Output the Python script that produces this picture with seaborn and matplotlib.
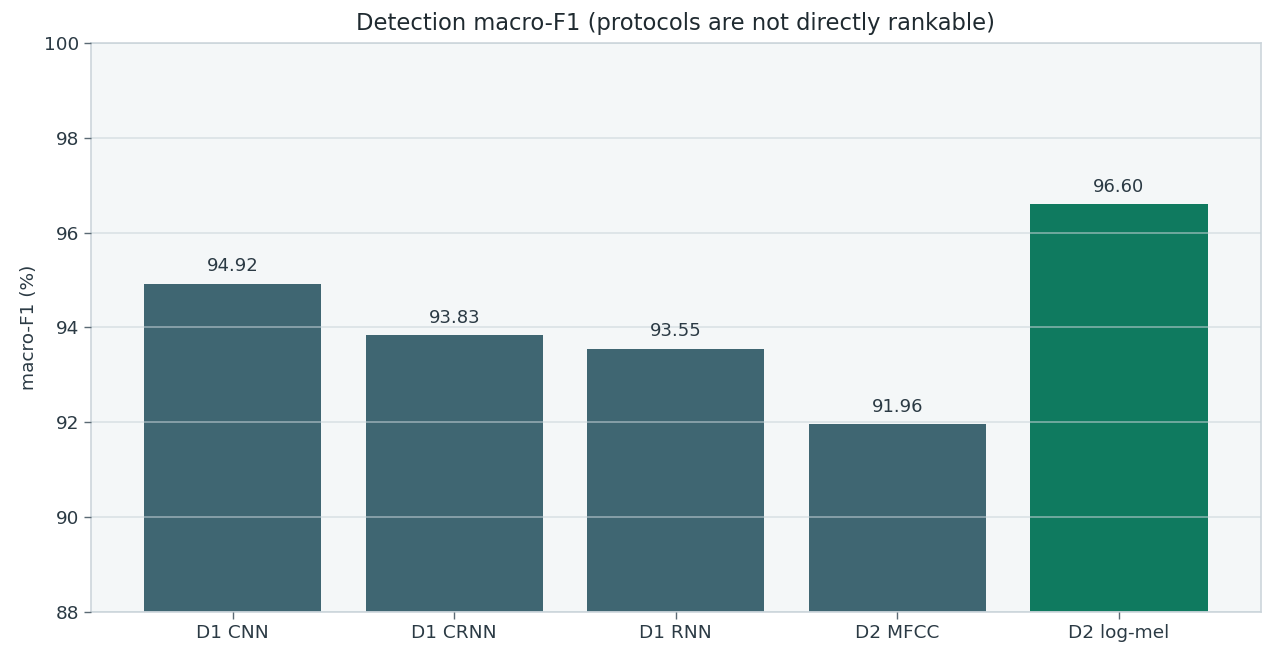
import matplotlib
matplotlib.use('Agg')
import matplotlib.pyplot as plt
import seaborn as sns
import pandas as pd

# values
models = ['D1 CNN', 'D1 CRNN', 'D1 RNN', 'D2 MFCC', 'D2 log-mel']
macro_f1 = [94.92, 93.83, 93.55, 91.96, 96.60]
bar_colors = ['#3f6672', '#3f6672', '#3f6672', '#3f6672', '#0f7a5f']

df = pd.DataFrame({'model': models, 'f1': macro_f1})

sns.set_style('white')
plt.rcParams['font.family'] = ['DejaVu Sans']
text_col = '#2b3a44'

fig, ax = plt.subplots(figsize=(12.76, 6.6), dpi=100)
fig.subplots_adjust(left=0.0713, right=0.988, top=0.935, bottom=0.073)

sns.barplot(data=df, x='model', y='f1', hue='model', palette=bar_colors,
            legend=False, width=0.8, saturation=1, linewidth=0, ax=ax)

ax.set_facecolor('#f4f7f8')
ax.set_xlim(-0.64, 4.64)
ax.set_ylim(88, 100)
ax.set_yticks([88, 90, 92, 94, 96, 98, 100])
ax.set_axisbelow(False)
ax.grid(axis='y', color='#c9d4da', alpha=0.6, linewidth=1.2)
ax.grid(axis='x', visible=False)

for s in ax.spines.values():
    s.set_color('#cdd6dc')
    s.set_linewidth(1.2)

ax.tick_params(axis='both', colors='#5b6a74', labelcolor=text_col, labelsize=13.3,
               length=5, width=1, left=True, bottom=True)

for i, v in enumerate(macro_f1):
    ax.annotate(f'{v:.2f}', (i, v), xytext=(0, 6), textcoords='offset points',
                ha='center', va='bottom', fontsize=13, color=text_col)

ax.set_xlabel('')
ax.set_ylabel('macro-F1 (%)', fontsize=13.3, color=text_col)
ax.set_title('Detection macro-F1 (protocols are not directly rankable)',
             fontsize=16.3, color='#1f2a30', pad=9)

fig.savefig('out.png', dpi=100)
